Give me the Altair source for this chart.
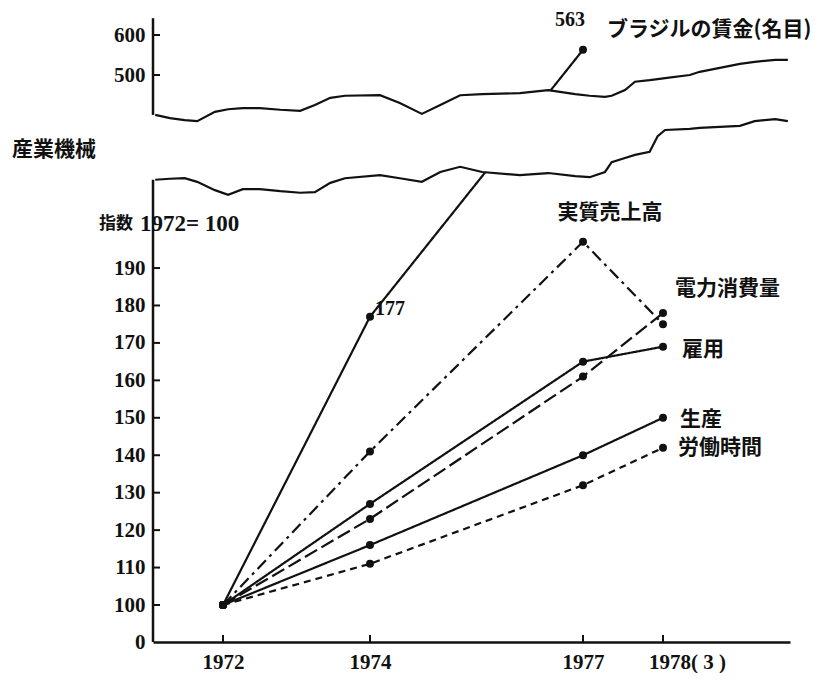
import altair as alt
import pandas as pd

# ---------------- data ----------------
years = [1972, 1974, 1977, 1978.2]          # 1978.2 = 1978 (March)
brazil_years = [1972, 1974, 1977]
brazil_wage = [100, 177, 563]               # ブラジルの賃金(名目)
real_sales = [100, 141, 197, 175]           # 実質売上高
power_use = [100, 123, 161, 178]            # 電力消費量
employment = [100, 127, 165, 169]           # 雇用
production = [100, 116, 140, 150]           # 生産
work_hours = [100, 111, 132, 142]           # 労働時間

series_names = ["ブラジルの賃金(名目)", "実質売上高", "電力消費量", "雇用", "生産", "労働時間"]
series_values = [brazil_wage, real_sales, power_use, employment, production, work_hours]

x_tick_values = [1972, 1974, 1977, 1978.2]
y_tick_values = [0, 100, 110, 120, 130, 140, 150, 160, 170, 180, 190, 500, 600]

# axis break (wavy lines), in (year, index) units
break_years = [1971.08, 1971.28, 1971.48, 1971.65, 1971.89, 1972.07, 1972.27, 1972.50,
               1972.78, 1973.05, 1973.25, 1973.46, 1973.66, 1974.14, 1974.42, 1974.73,
               1974.99, 1975.27, 1975.58, 1976.11, 1976.51, 1976.89, 1977.10, 1977.33,
               1977.43, 1977.63, 1977.78, 1978.00, 1978.12, 1978.23, 1978.58, 1978.72,
               1979.29, 1979.50, 1979.79, 1979.97]
break_upper = [423, 417, 413, 411, 429, 434, 436, 436, 433, 431, 442, 456, 460, 461, 446, 425,
               442, 461, 463, 465, 471, 463, 460, 458, 460, 471, 487, 490, 492, 494, 500, 508,
               528, 533, 538, 538]
break_lower = [298, 300, 301, 294, 278, 269, 280, 280, 276, 273, 274, 292, 301, 307, 301, 294,
               313, 323, 313, 307, 311, 305, 303, 313, 332, 340, 346, 352, 382, 394, 396, 398,
               402, 411, 415, 411]
axis_from = [0, 423]
axis_to = [298, 642]

# ---------------- tables ----------------
rows = []
for name, vals in zip(series_names, series_values):
    xs = brazil_years if name == series_names[0] else years
    for yr, v in zip(xs, vals):
        rows.append({"series": name, "year": yr, "value": v})
df = pd.DataFrame(rows)
brk = pd.DataFrame({"year": break_years, "upper": break_upper, "lower": break_lower})
axis_df = pd.DataFrame({"y": axis_from, "y2": axis_to})
yt_df = pd.DataFrame({"value": [v for v in y_tick_values if v > 0]})
xt_df = pd.DataFrame({"year": x_tick_values})

NUM_FONT = "Liberation Serif"
JP_FONT = "Noto Sans CJK JP"
INK = "#111111"

# broken axes: piecewise-linear scales
x_scale = alt.Scale(domain=[1971.05, 1972, 1974, 1977, 1978.2, 1980],
                    range=[0, 70, 217, 430, 510, 637], nice=False, zero=False)
y_scale = alt.Scale(domain=[0, 100, 200, 500, 600, 667.5],
                    range=[634, 597, 222.6, 67, 27, 0], nice=False, zero=False)

x_axis = alt.Axis(values=x_tick_values, title=None, grid=False, ticks=False, tickSize=0,
                  labelExpr="datum.value > 1978 ? '1978( 3 )' : format(datum.value, 'd')",
                  labelOffset={"condition": {"test": "datum.value > 1978", "value": 24}, "value": 0},
                  labelFont=NUM_FONT, labelFontSize=21, labelFontWeight="bold", labelColor=INK,
                  labelPadding=9, domainColor=INK, domainWidth=2.5, labelFlush=False,
                  labelOverlap=False)
y_axis = alt.Axis(values=y_tick_values, title=None, grid=False, ticks=False, tickSize=0,
                  domain=False, labelFont=NUM_FONT, labelFontSize=21, labelFontWeight="bold",
                  labelColor=INK, labelPadding=8, format="d", labelOverlap=False)


def X(field):
    return alt.X(field, type="quantitative", scale=x_scale, axis=x_axis)


def Y(field):
    return alt.Y(field, type="quantitative", scale=y_scale, axis=y_axis)


dash_scale = alt.Scale(domain=series_names,
                       range=[[1, 0], [12, 5, 3, 5], [14, 5], [1, 0], [1, 0], [7, 5]])

base = alt.Chart(df)
lines = base.mark_line(color=INK, strokeWidth=2.2).encode(
    x=X("year"), y=Y("value"),
    strokeDash=alt.StrokeDash("series:N", scale=dash_scale, legend=None),
    detail="series:N",
    order="year:Q",
)
points = base.mark_circle(color=INK, size=64, opacity=1).encode(x=X("year"), y=Y("value"))

mask = alt.Chart(brk).mark_area(color="white", opacity=1, orient="vertical").encode(
    x=X("year"), y=Y("upper"), y2="lower:Q",
)
wave_up = alt.Chart(brk).mark_line(color=INK, strokeWidth=2.2).encode(x=X("year"), y=Y("upper"))
wave_lo = alt.Chart(brk).mark_line(color=INK, strokeWidth=2.2).encode(x=X("year"), y=Y("lower"))
axis_line = alt.Chart(axis_df).mark_rule(color=INK, strokeWidth=2.5).encode(
    x=alt.value(0), y=Y("y"), y2="y2:Q",
)
y_ticks = alt.Chart(yt_df).mark_rule(color=INK, strokeWidth=2).encode(
    x=alt.value(0), x2=alt.value(7), y=Y("value"),
)
x_ticks = alt.Chart(xt_df).mark_rule(color=INK, strokeWidth=2).encode(
    x=X("year"), y=alt.value(627), y2=alt.value(634),
)


def point_label(text, year, value, dx, dy, align="left", font=JP_FONT, size=21):
    d = pd.DataFrame({"year": [year], "value": [value], "label": [text]})
    return alt.Chart(d).mark_text(
        dx=dx, dy=dy, align=align, baseline="middle", font=font, fontSize=size,
        fontWeight="bold", color=INK,
    ).encode(x=X("year"), y=Y("value"), text="label:N")


def free_label(text, x, y, font=JP_FONT, size=21):
    d = pd.DataFrame({"label": [text]})
    return alt.Chart(d).mark_text(
        align="left", baseline="middle", font=font, fontSize=size, fontWeight="bold", color=INK,
    ).encode(x=alt.value(x), y=alt.value(y), text="label:N")


labels = [
    point_label(str(brazil_wage[2]), brazil_years[2], brazil_wage[2], -13, -30, "center", NUM_FONT, 20),
    point_label(series_names[0], brazil_years[2], brazil_wage[2], 24, -20, "left", JP_FONT, 21),
    point_label(str(brazil_wage[1]), brazil_years[1], brazil_wage[1], 5, -8, "left", NUM_FONT, 20),
    point_label(series_names[1], years[2], real_sales[2], 27, -29, "center"),
    point_label(series_names[2], years[3], power_use[3], 12, -24),
    point_label(series_names[3], years[3], employment[3], 19, 3),
    point_label(series_names[4], years[3], production[3], 17, 2),
    point_label(series_names[5], years[3], work_hours[3], 15, 0),
    free_label("産業機械", -141, 142),
    free_label("指数", -54, 216, JP_FONT, 17),
    free_label("1972= 100", -13, 216, NUM_FONT, 23),
]

chart = alt.layer(
    lines, points, mask, wave_up, wave_lo, axis_line, y_ticks, x_ticks, *labels
).properties(
    width=637, height=634,
    autosize=alt.AutoSizeParams(type="none"),
    padding={"left": 145, "top": 0, "right": 35, "bottom": 31},
    background="white",
).configure_view(stroke=None)

chart.save("out.html", embed_options={"renderer": "svg", "actions": False})
